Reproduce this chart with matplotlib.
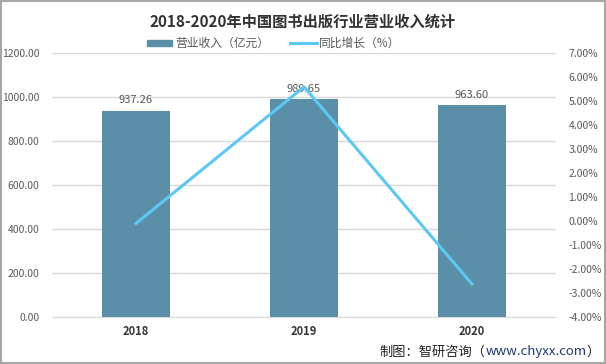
import matplotlib
matplotlib.use("Agg")
import matplotlib.pyplot as plt
from matplotlib.ticker import FuncFormatter
from matplotlib.patches import Rectangle
from matplotlib.lines import Line2D

plt.rcParams['font.family'] = ['Noto Sans CJK SC', 'DejaVu Sans']

years = ['2018', '2019', '2020']
revenue = [937.26, 989.65, 963.60]
growth = [-0.1, 5.59, -2.63]

bar_color = '#5B8FA8'
line_color = '#5BC8F5'
text_color = '#595959'

fig = plt.figure(figsize=(6.06, 3.64), dpi=100)
ax = fig.add_axes([0.0858, 0.1291, 0.8317, 0.7253])
x = list(range(len(years)))
ax.bar(x, revenue, width=0.4, color=bar_color, zorder=2)
ax.set_xlim(-0.5, 2.5)
ax.set_ylim(0, 1200)
ax.set_yticks(range(0, 1201, 200))
ax.yaxis.set_major_formatter(FuncFormatter(lambda v, p: f'{v:.2f}'))
ax.set_xticks(x)
ax.set_xticklabels(years, fontweight='bold', color='#333333', fontsize=8)
ax.tick_params(axis='y', length=0, labelsize=7.5, labelcolor=text_color, pad=9)
ax.tick_params(axis='x', length=0, pad=6)
ax.grid(axis='y', color='#D9D9D9', linewidth=1, zorder=0)
for s in ['top', 'right', 'left']:
    ax.spines[s].set_visible(False)
ax.spines['bottom'].set_color('#D9D9D9')
for xi, v in zip(x, revenue):
    ax.text(xi, v + 25, f'{v:.2f}', ha='center', va='bottom', fontsize=8, color=text_color, zorder=5)

ax2 = ax.twinx()
ax2.plot(x, growth, color=line_color, linewidth=2.2, zorder=4)
ax2.set_ylim(-4, 7)
ax2.set_yticks(range(-4, 8))
ax2.yaxis.set_major_formatter(FuncFormatter(lambda v, p: f'{v:.2f}%'))
ax2.tick_params(axis='y', length=0, labelsize=7.5, labelcolor=text_color, pad=9)
for s in ['top', 'right', 'left', 'bottom']:
    ax2.spines[s].set_visible(False)

fig.text(0.5, 0.94, '2018-2020年中国图书出版行业营业收入统计', ha='center', va='center',
         fontsize=11, fontweight='bold', color='#333333')

# legend
fig.patches.append(Rectangle((147/606, 1-46/364), 25/606, 6/364, transform=fig.transFigure,
                             color=bar_color))
fig.text(175/606, 1-43/364, '营业收入（亿元）', ha='left', va='center', fontsize=8.5, color=text_color)
fig.lines.append(Line2D([290/606, 317/606], [1-43/364, 1-43/364], transform=fig.transFigure,
                        color=line_color, linewidth=2.2))
fig.text(319/606, 1-43/364, '同比增长（%）', ha='left', va='center', fontsize=8.5, color=text_color)

# source text with blue url
src_parts = [('制图：智研咨询（', '#222222'), ('www.chyxx.com', '#1F3A6E'), ('）', '#222222')]
renderer = fig.canvas.get_renderer()
xpos = 0.99
for txt, col in reversed(src_parts):
    tt = fig.text(xpos, 1-352/364, txt, ha='right', va='center', fontsize=9.5, color=col)
    bb = tt.get_window_extent(renderer=renderer)
    xpos -= bb.width / fig.bbox.width

fig.patches.append(Rectangle((0.001, 0.002), 0.997, 0.995, transform=fig.transFigure,
                             fill=False, edgecolor='#A6A6A6', linewidth=1.5))

fig.savefig('out.png', dpi=100)
